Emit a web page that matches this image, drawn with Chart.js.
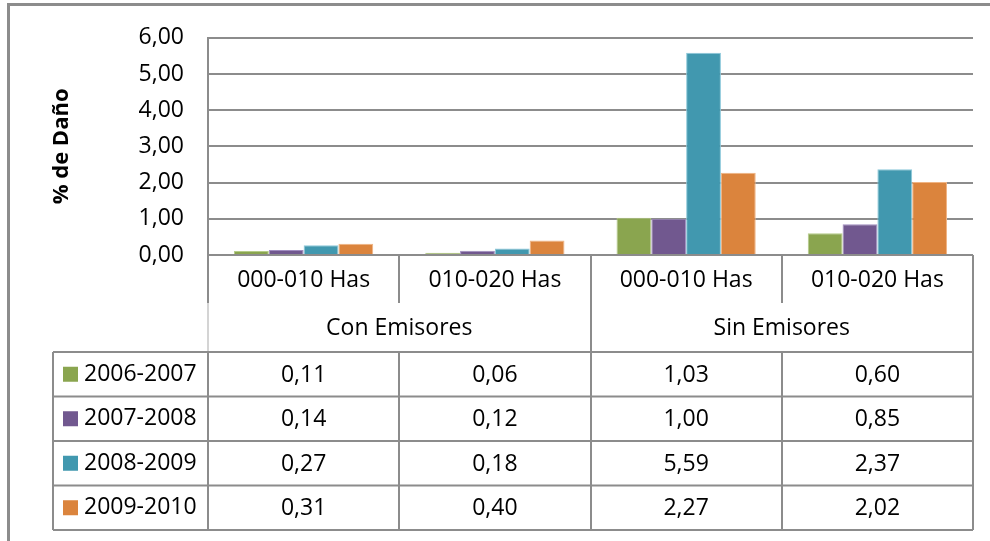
<!DOCTYPE html>
<html>
<head>
<meta charset="utf-8">
<script src="https://cdn.jsdelivr.net/npm/chart.js@4.4.1/dist/chart.umd.min.js"></script>
<style>
  html, body { margin: 0; padding: 0; background: #fff; }
  #wrap { width: 990px; height: 541px; position: relative; }
</style>
</head>
<body>
<div id="wrap"><canvas id="danoChart"></canvas></div>
<script>
// data
var categories = ['000-010 Has', '010-020 Has', '000-010 Has', '010-020 Has'];
var groups = ['Con Emisores', 'Sin Emisores'];
var seasons = ['2006-2007', '2007-2008', '2008-2009', '2009-2010'];
var s2006 = [0.11, 0.06, 1.03, 0.60];
var s2007 = [0.14, 0.12, 1.00, 0.85];
var s2008 = [0.27, 0.18, 5.59, 2.37];
var s2009 = [0.31, 0.40, 2.27, 2.02];
var yTicks = [0, 1, 2, 3, 4, 5, 6];

var colors = ['#8aa54f', '#71588f', '#4198af', '#db843d'];
var edges = ['#b5cc88', '#a08cc0', '#8cc8da', '#f0b483'];
var FONT = '"Open Sans", "Noto Sans", sans-serif';
var LINE = '#8c8c8c';

function fmt(v) {
    return v.toFixed(2).replace('.', ',');
}

// draws the frame and the data table under the plot
var tablePlugin = {
    id: 'dataTable',
    beforeDraw: function(chart) {
        var ctx = chart.ctx;
        ctx.save();
        ctx.fillStyle = '#fff';
        ctx.fillRect(0, 0, chart.width, chart.height);
        ctx.strokeStyle = LINE;
        ctx.lineWidth = 3;
        ctx.beginPath();
        ctx.moveTo(chart.width, 4.5);
        ctx.lineTo(8.5, 4.5);
        ctx.lineTo(8.5, chart.height);
        ctx.stroke();
        ctx.restore();
    },
    afterDraw: function(chart) {
        var ctx = chart.ctx;
        var x = chart.scales.x;
        var area = chart.chartArea;
        var catW = area.width / categories.length;
        var catTop = area.bottom;
        var catBottom = 303;
        var tableTop = 352;
        var rowH = 44.5;
        var tableBottom = tableTop + rowH * seasons.length;
        var legendLeft = 53;
        var series = [s2006, s2007, s2008, s2009];

        function line(x1, y1, x2, y2, color) {
            ctx.strokeStyle = color || LINE;
            ctx.beginPath();
            ctx.moveTo(x1, y1);
            ctx.lineTo(x2, y2);
            ctx.stroke();
        }

        ctx.save();
        ctx.lineWidth = 2;

        // column separators; inner ones are broken in the group row
        for (var i = 0; i <= categories.length; i++) {
            var cx = Math.round(area.left + catW * i);
            if (i % 2 === 1) {
                line(cx, catTop, cx, catBottom);
                line(cx, tableTop, cx, tableBottom);
            } else if (i === 0) {
                line(cx, catTop, cx, catBottom);
                line(cx, catBottom, cx, tableTop, '#d4d4d4');
                line(cx, tableTop, cx, tableBottom);
            } else {
                line(cx, catTop, cx, tableBottom);
            }
        }

        // table horizontal lines
        for (var r = 0; r <= seasons.length; r++) {
            var ry = tableTop + rowH * r;
            line(legendLeft, ry, area.right, ry);
        }
        line(legendLeft, tableTop, legendLeft, tableBottom);

        ctx.fillStyle = '#000';
        ctx.font = '23px ' + FONT;
        ctx.textAlign = 'center';
        ctx.textBaseline = 'middle';

        categories.forEach(function(c, i) {
            ctx.fillText(c, x.getPixelForValue(i), (catTop + catBottom) / 2 + 1);
        });
        groups.forEach(function(g, i) {
            var gx = (x.getPixelForValue(i * 2) + x.getPixelForValue(i * 2 + 1)) / 2;
            ctx.fillText(g, gx, (catBottom + tableTop) / 2 + 1);
        });

        series.forEach(function(vals, r) {
            var cy = tableTop + rowH * r + rowH / 2;
            vals.forEach(function(v, i) {
                ctx.fillStyle = '#000';
                ctx.textAlign = 'center';
                ctx.fillText(fmt(v), x.getPixelForValue(i), cy + 1);
            });
            ctx.fillStyle = colors[r];
            ctx.fillRect(63, cy - 7.5, 15, 15);
            ctx.fillStyle = '#000';
            ctx.textAlign = 'left';
            ctx.fillText(seasons[r], 84, cy);
        });
        ctx.restore();
    }
};

var ctx = document.getElementById('danoChart').getContext('2d');
var danoChart = new Chart(ctx, {
    type: 'bar',
    data: {
        labels: categories,
        datasets: [s2006, s2007, s2008, s2009].map(function(d, i) {
            return {
                label: seasons[i],
                data: d,
                backgroundColor: colors[i],
                borderColor: edges[i],
                borderWidth: 1,
                categoryPercentage: 0.728,
                barPercentage: 1.0
            };
        })
    },
    options: {
        responsive: true,
        maintainAspectRatio: false,
        animation: false,
        layout: {
            padding: { left: 0, right: 17, top: 34, bottom: 286 }
        },
        plugins: {
            legend: { display: false },
            tooltip: { enabled: false }
        },
        scales: {
            x: {
                display: false
            },
            y: {
                min: 0,
                max: 6,
                afterFit: function(scale) {
                    scale.width = 208;
                },
                afterBuildTicks: function(scale) {
                    scale.ticks = yTicks.map(function(v) { return { value: v }; });
                },
                ticks: {
                    padding: 24,
                    color: '#000',
                    font: { family: FONT, size: 23 },
                    callback: function(v) { return fmt(v); }
                },
                grid: {
                    color: LINE,
                    lineWidth: 2,
                    drawTicks: false
                },
                border: {
                    display: true,
                    color: LINE,
                    width: 2
                },
                title: {
                    display: true,
                    text: '% de Daño',
                    color: '#000',
                    font: { family: FONT, size: 22, weight: 'bold' },
                    padding: { top: 49, bottom: 0 }
                }
            }
        }
    },
    plugins: [tablePlugin]
});
</script>
</body>
</html>
